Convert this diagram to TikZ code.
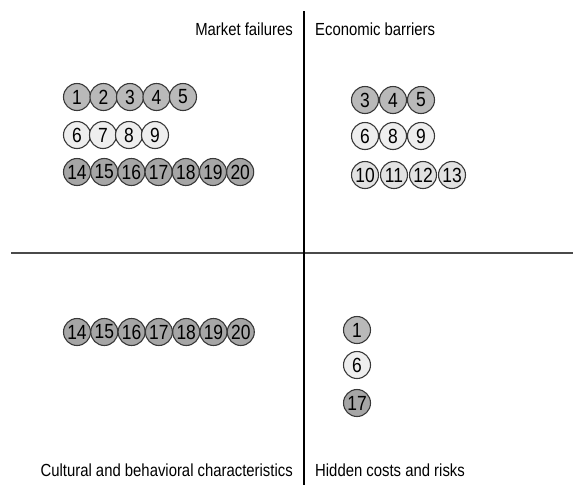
\documentclass[tikz,border=0pt]{standalone}
\usepackage{fontspec}
\setmainfont{Liberation Sans}[FakeStretch=0.85]
\usetikzlibrary{positioning}
\definecolor{ballmid}{HTML}{B9B9B9}
\definecolor{balllight}{HTML}{EEEEEE}
\definecolor{ballpale}{HTML}{E2E2E2}
\definecolor{balldark}{HTML}{A6A6A6}
\definecolor{rim}{HTML}{383838}
\definecolor{axis}{HTML}{4A4A4A}
\newcommand{\Lbl}{\fontsize{17.5}{20}\selectfont}
\newcommand{\Num}{\fontsize{20.5}{22}\selectfont}

\begin{document}
\begin{tikzpicture}[x=1pt,y=-1pt,
    ball/.style={circle, draw=rim, line width=1.1pt, minimum size=27pt, inner sep=0pt, font=\Num},
    quadlabel/.style={font=\Lbl, text=black, inner sep=0pt}]
  \useasboundingbox (0,0) rectangle (573,485);
  % axes
  \coordinate (h-left) at (11,253);
  \coordinate (h-right) at (573,253);
  \coordinate (v-top) at (304,11);
  \coordinate (v-bot) at (304,485);
  \draw[axis, line width=1.4pt] (h-left) -- (h-right);
  \draw[black, line width=1.1pt] (v-top) -- (v-bot);

  % quadrant titles
  \node[quadlabel, anchor=east] (mf) at (293,29) {Market failures};
  \node[quadlabel, anchor=west] (eb) at (315,29) {Economic barriers};
  \node[quadlabel, anchor=east] (cb) at (293,470) {Cultural and behavioral characteristics};
  \node[quadlabel, anchor=west] (hc) at (315,470) {Hidden costs and risks};

  % market failures
  \foreach \n [count=\i from 0] in {1,...,5}
    \node[ball, fill=ballmid] (mf\n) at (77+\i*26.5,97) {\n};
  \foreach \n [count=\i from 0] in {6,...,9}
    \node[ball, fill=balllight] (mf\n) at (77+\i*26,135) {\n};
  \foreach \n [count=\i from 0] in {14,...,20}
    \node[ball, fill=balldark] (mf\n) at (77+\i*27.2,172) {\n};

  % economic barriers
  \foreach \n [count=\i from 0] in {3,4,5}
    \node[ball, fill=ballmid] (eb\n) at (365+\i*28,100) {\n};
  \foreach \n [count=\i from 0] in {6,8,9}
    \node[ball, fill=balllight] (eb\n) at (365+\i*28,136) {\n};
  \foreach \n [count=\i from 0] in {10,...,13}
    \node[ball, fill=ballpale] (eb\n) at (365+\i*29,175) {\n};

  % cultural and behavioral
  \foreach \n [count=\i from 0] in {14,...,20}
    \node[ball, fill=balldark] (cb\n) at (77+\i*27.3,332) {\n};

  % hidden costs
  \foreach \n/\y/\c in {1/330/ballmid, 6/365/balllight, 17/403/balldark}
    \node[ball, fill=\c] (hc\n) at (357,\y) {\n};
\end{tikzpicture}
\end{document}
